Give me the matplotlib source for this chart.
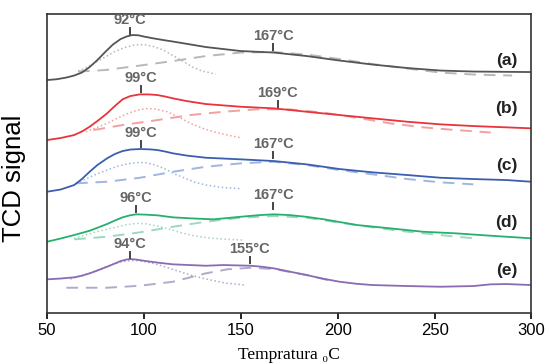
import matplotlib
matplotlib.use("Agg")
import matplotlib.pyplot as plt

# TPR profiles (signal in arbitrary, stacked units)
a_T = [50, 55, 60, 64, 68, 72, 76, 80, 84, 88, 91, 94, 97, 100, 104, 110, 115, 132, 150, 167, 184, 201, 218, 236, 253, 270, 287, 300]
a_y = [233, 233.8, 235.5, 237.5, 240.5, 246, 253, 261, 268.5, 274, 276.5, 278, 277.8, 276.5, 275, 273, 271.5, 266, 262, 260.5, 257, 252.5, 248.5, 245, 242.5, 241.5, 241.2, 241]
a_dot_T = [66, 70, 75, 80, 85, 90, 95, 100, 105, 110, 115, 120, 125, 130, 137]
a_dot_y = [242, 245, 250.5, 256, 261.5, 265.5, 268, 268.5, 266.5, 263, 257.5, 252, 246, 242, 239]
a_dash_T = [66, 80, 98, 115, 132, 150, 167, 184, 201, 218, 236, 253, 270, 290]
a_dash_y = [241.5, 243, 247.5, 252, 257, 260.5, 261, 258.5, 254, 249, 244.5, 240.5, 238.5, 237.5]

b_T = [50, 57, 64, 68, 72, 76, 81, 85, 89, 93, 98, 103, 107, 111, 115, 122, 132, 150, 167, 184, 201, 218, 236, 253, 270, 287, 300]
b_y = [173, 175, 178, 181.5, 186.3, 192, 199.7, 207, 213.7, 217, 218.7, 218.6, 218, 216.5, 214.7, 212, 209, 206.3, 204.7, 201.3, 198, 194.7, 191.3, 188.7, 187, 185.7, 184.7]
b_dot_T = [70, 75, 81, 86, 91, 96, 101, 106, 112, 118, 124, 130, 136, 143, 150]
b_dot_y = [181.3, 185, 189.7, 194.5, 199, 202.5, 204.5, 204, 201.3, 196, 189.7, 185, 181.3, 178, 175.3]
b_dash_T = [74, 89, 107, 124, 141, 158, 175, 193, 210, 227, 244, 261, 279]
b_dash_y = [183, 188, 193, 198, 201.3, 203.7, 203.7, 200.3, 195.3, 189.7, 185.7, 183, 180.5]

c_T = [50, 57, 64, 68, 72, 76, 81, 85, 89, 93, 98, 103, 107, 111, 115, 122, 132, 150, 167, 184, 201, 218, 236, 253, 270, 287, 300]
c_y = [121.3, 123.5, 128, 134, 141.3, 148, 154.7, 159, 162, 163.5, 164, 163.7, 163, 161.5, 159.7, 157.5, 155.3, 153.7, 152, 148.7, 144, 140.7, 138, 135.3, 134, 133, 131.3]
c_dot_T = [65, 70, 75, 81, 86, 91, 96, 101, 106, 111, 116, 121, 126, 132, 141, 150]
c_dot_y = [129.7, 134, 138.5, 143, 146.5, 149, 150.5, 150.3, 148, 144, 139, 135, 131, 128, 125.5, 124.3]
c_dash_T = [65, 81, 98, 115, 132, 150, 167, 184, 201, 218, 236, 253, 270]
c_dash_y = [129.7, 131.3, 135.3, 141.3, 146.3, 149.7, 151.3, 148, 143, 138.7, 134, 130.7, 128.7]

d_T = [50, 57, 64, 72, 81, 85, 89, 93, 96, 101, 107, 115, 124, 136, 150, 160, 167, 175, 184, 193, 210, 227, 244, 261, 279, 300]
d_y = [71.3, 74.5, 78, 82.3, 89, 92.5, 95.7, 97.8, 98.7, 98.4, 97.7, 95.7, 94.7, 93.7, 96.3, 98, 98.7, 98, 96.2, 93.7, 88, 84.7, 81.3, 79.7, 77.3, 74.7]
d_dot_T = [64, 70, 76, 81, 86, 91, 96, 101, 107, 112, 118, 124, 130, 136, 144, 151]
d_dot_y = [74.7, 78, 81.5, 83.7, 86, 88.3, 89.7, 89.2, 87, 84.5, 81, 78, 76, 74.7, 73.6, 73]
d_dash_T = [64, 81, 98, 115, 132, 150, 167, 184, 201, 218, 236, 253, 270]
d_dash_y = [73.7, 76.3, 80.7, 86.3, 91.3, 95.3, 97, 95.3, 90.3, 85.7, 81.3, 78, 74.7]

e_T = [50, 57, 64, 68, 72, 76, 81, 85, 88, 91, 93, 96, 101, 108, 115, 132, 141, 155, 161, 167, 175, 184, 192, 201, 210, 218, 236, 253, 270, 279, 287, 300]
e_y = [33.7, 34.5, 35.7, 37.3, 39.7, 42.5, 46.3, 49.5, 52, 53.5, 54, 53.5, 52, 50.2, 48.7, 47.3, 48, 47.3, 46.3, 44.7, 41.5, 38, 34.5, 31.3, 29.2, 28, 27, 26.3, 27, 28.7, 29, 28]
e_dot_T = [62, 67, 72, 76, 80, 84, 88, 92, 96, 100, 104, 108, 112, 116, 120, 124, 132, 142, 152]
e_dot_y = [34, 37, 40, 43, 46, 48.8, 51, 52.3, 52.6, 51.5, 50, 48, 45.5, 43, 40.5, 38, 34, 30, 28]
e_dash_T = [60, 81, 98, 115, 132, 143, 155, 167, 184, 195]
e_dash_y = [25.3, 25.3, 27.3, 31.3, 39.7, 43.7, 45.3, 44, 38, 33]

samples = ["(a)", "(b)", "(c)", "(d)", "(e)"]
colors = ["#555555", "#e8343a", "#3b5fae", "#25b06e", "#8b6cb3"]
light = ["#b8b8b8", "#f2a0a0", "#9fb6e0", "#9fd9bd", "#b4a8cc"]

# peak labels: (temperature, text, y of tick bottom)
peaks = [
    [(92.8, "92°C", 279), (166.8, "167°C", 263)],
    [(98.5, "99°C", 221), (169, "169°C", 206)],
    [(98.5, "99°C", 166), (166.8, "167°C", 155)],
    [(95.8, "96°C", 101), (166.8, "167°C", 104)],
    [(92.8, "94°C", 55), (154.6, "155°C", 50)],
]
letter_y = [253, 205, 148, 91, 43]

solid = [(a_T, a_y), (b_T, b_y), (c_T, c_y), (d_T, d_y), (e_T, e_y)]
dots = [(a_dot_T, a_dot_y), (b_dot_T, b_dot_y), (c_dot_T, c_dot_y), (d_dot_T, d_dot_y), (e_dot_T, e_dot_y)]
dashes = [(a_dash_T, a_dash_y), (b_dash_T, b_dash_y), (c_dash_T, c_dash_y), (d_dash_T, d_dash_y), (e_dash_T, e_dash_y)]

plt.rcParams["font.family"] = ["Liberation Sans", "DejaVu Sans"]

fig = plt.figure(figsize=(5.49, 3.64), dpi=100)
ax = fig.add_axes([0.0856, 0.140, 0.8825, 0.8214])

for i in range(5):
    ax.plot(dots[i][0], dots[i][1], ":", color=light[i], lw=1.1)
    ax.plot(dashes[i][0], dashes[i][1], color=light[i], lw=1.4, dashes=(6, 4))
    ax.plot(solid[i][0], solid[i][1], color=colors[i], lw=1.3)
    for t, txt, yb in peaks[i]:
        ax.plot([t, t], [yb, yb + 6], color="#444444", lw=1.4)
        ax.text(t, yb + 7, txt, ha="center", va="bottom", fontsize=10.5,
                fontweight="bold", color="#666666")
    ax.text(293, letter_y[i], samples[i], ha="right", va="center", fontsize=12.5,
            fontweight="bold", color="#222222")

ax.set_xlim(50, 300)
ax.set_ylim(0, 299)
ax.set_xticks([50, 100, 150, 200, 250, 300])
ax.set_yticks([])
ax.tick_params(axis="x", direction="out", length=4, width=1.2, labelsize=12, pad=3)
for s in ax.spines.values():
    s.set_linewidth(1.2)
    s.set_color("#333333")

ax.set_ylabel("TCD signal", fontsize=18.5)
ax.yaxis.set_label_coords(-0.043, 0.45)
ax.set_xlabel("Tempratura ₀C", fontsize=12.5, family=["Liberation Serif", "DejaVu Serif"], labelpad=7)

fig.savefig("out.png", dpi=100)
